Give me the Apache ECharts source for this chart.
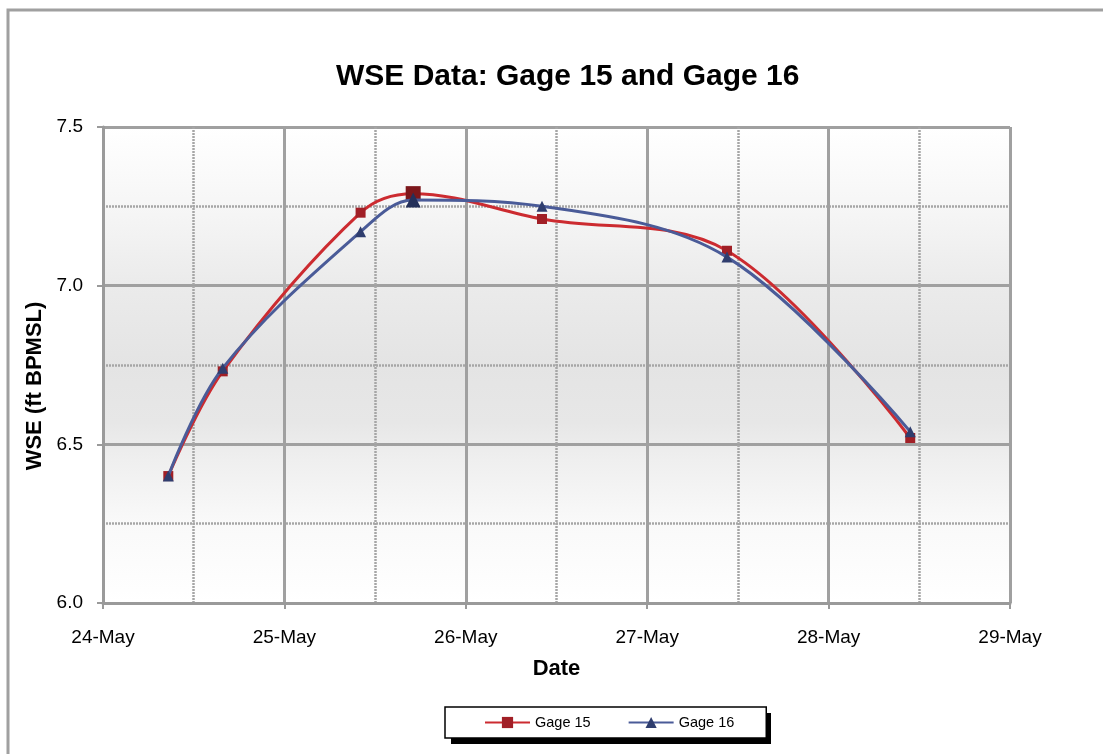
<!DOCTYPE html>
<html>
<head>
<meta charset="utf-8">
<script src="https://cdn.jsdelivr.net/npm/echarts@6/dist/echarts.min.js"></script>
<style>
html,body{margin:0;padding:0;background:#fff;}
#chart{width:1103px;height:754px;}
</style>
</head>
<body>
<div id="chart"></div>
<script>
// Day of May (fractional) for each reading
var dates = [24.36, 24.66, 25.42, 25.71, 26.42, 27.44, 28.45];
var gage15 = [6.40, 6.73, 7.23, 7.29, 7.21, 7.11, 6.52];
var gage16 = [6.40, 6.74, 7.17, 7.27, 7.25, 7.09, 6.54];
var xTicks = [24, 25, 26, 27, 28, 29];
var monthLabel = 'May';

var FONT = '"Liberation Sans", Arial, sans-serif';
var chart = echarts.init(document.getElementById('chart'), null, {renderer: 'canvas'});

function pairs(vals) { return dates.map(function (d, i) { return [d, vals[i]]; }); }
var peakIdx = 3;

var option = {
  animation: false,
  backgroundColor: '#ffffff',
  textStyle: {fontFamily: FONT},
  title: {
    text: 'WSE Data: Gage 15 and Gage 16',
    left: 336, top: 62, padding: 0,
    textStyle: {fontFamily: FONT, fontSize: 30, fontWeight: 'bold', color: '#000'}
  },
  graphic: [{
    type: 'rect', shape: {x: 8, y: 10, width: 1110, height: 800},
    style: {fill: 'none', stroke: '#a0a0a0', lineWidth: 3}, silent: true, z: -1
  }, {
    // legend drop shadow
    type: 'rect', shape: {x: 451, y: 713, width: 320, height: 31},
    style: {fill: '#000', stroke: 'none'}, silent: true, z: 1
  }],
  legend: {
    left: 445, top: 707, z: 10,
    padding: [8, 32, 8, 39],
    itemGap: 37, itemWidth: 45, itemHeight: 14,
    backgroundColor: '#ffffff',
    borderColor: '#000', borderWidth: 1.5, borderRadius: 0,
    textStyle: {fontFamily: FONT, fontSize: 14.5, color: '#000'},
    data: [
      {name: 'Gage 15', itemStyle: {color: '#a11f26'}},
      {name: 'Gage 16', itemStyle: {color: '#2f3d6e'}}
    ]
  },
  grid: {
    left: 103, top: 127, right: 93, bottom: 151,
    show: true, borderWidth: 0,
    backgroundColor: new echarts.graphic.LinearGradient(0, 0, 0, 1, [
      {offset: 0, color: '#ffffff'},
      {offset: 0.17, color: '#f6f6f6'},
      {offset: 0.33, color: '#ebebeb'},
      {offset: 0.5, color: '#e4e4e4'},
      {offset: 0.62, color: '#e7e7e7'},
      {offset: 0.7, color: '#efefef'},
      {offset: 0.83, color: '#f9f9f9'},
      {offset: 1, color: '#ffffff'}
    ])
  },
  xAxis: {
    type: 'value',
    min: xTicks[0], max: xTicks[xTicks.length - 1], interval: 1,
    name: 'Date', nameLocation: 'middle', nameGap: 55,
    nameTextStyle: {fontFamily: FONT, fontSize: 22, fontWeight: 'bold', color: '#000'},
    axisLine: {show: true, onZero: false, lineStyle: {color: '#9a9a9a', width: 3}},
    axisTick: {show: true, length: 6, lineStyle: {color: '#9a9a9a', width: 2}},
    axisLabel: {
      margin: 25, fontFamily: FONT, fontSize: 19, color: '#000',
      formatter: function (v) { return Math.round(v) + '-' + monthLabel; }
    },
    splitLine: {show: true, lineStyle: {color: '#a0a0a0', width: 3}},
    minorTick: {show: false, splitNumber: 2},
    minorSplitLine: {show: true, lineStyle: {color: '#a6a6a6', width: 2.5, type: [2, 1]}}
  },
  yAxis: {
    type: 'value',
    min: 6, max: 7.5, interval: 0.5,
    name: 'WSE (ft BPMSL)', nameLocation: 'middle', nameGap: 57,
    nameTextStyle: {fontFamily: FONT, fontSize: 22, fontWeight: 'bold', color: '#000', padding: [0, 42, 0, 0]},
    axisLine: {show: true, lineStyle: {color: '#9a9a9a', width: 3}},
    axisTick: {show: true, length: 6, lineStyle: {color: '#9a9a9a', width: 2}},
    axisLabel: {
      margin: 20, fontFamily: FONT, fontSize: 19, color: '#000',
      formatter: function (v) { return v.toFixed(1); }
    },
    splitLine: {show: true, lineStyle: {color: '#a0a0a0', width: 3}},
    minorTick: {show: false, splitNumber: 2},
    minorSplitLine: {show: true, lineStyle: {color: '#a6a6a6', width: 2.5, type: [2, 1]}}
  },
  series: [{
    name: 'Gage 15', type: 'line', smooth: 0.35,
    data: pairs(gage15),
    symbol: 'rect',
    symbolSize: function (v, p) { return p.dataIndex === peakIdx ? 15 : 10; },
    lineStyle: {color: '#cc2b30', width: 3},
    itemStyle: {color: function (p) { return p.dataIndex === peakIdx ? '#7c171b' : '#a11f26'; }, borderWidth: 0},
    z: 3
  }, {
    name: 'Gage 16', type: 'line', smooth: 0.35,
    data: pairs(gage16),
    symbol: 'triangle',
    symbolSize: function (v, p) { return p.dataIndex === peakIdx ? 15 : 11; },
    lineStyle: {color: '#4a5b98', width: 3},
    itemStyle: {color: function (p) { return p.dataIndex === peakIdx ? '#24305a' : '#2f3d6e'; }, borderWidth: 0},
    z: 4
  }]
};
chart.setOption(option);
</script>
</body>
</html>
